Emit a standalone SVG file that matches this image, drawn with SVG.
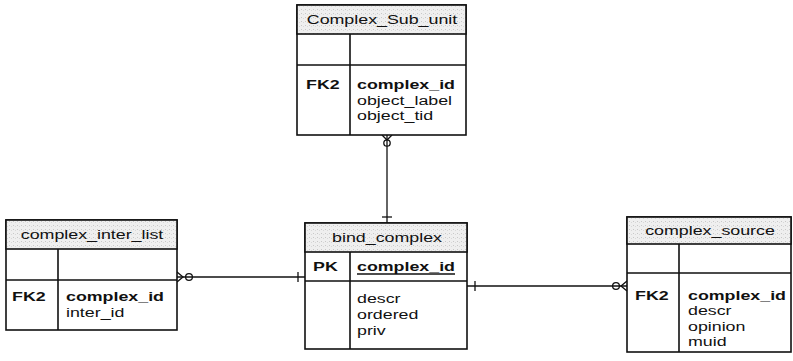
<svg xmlns="http://www.w3.org/2000/svg" width="793" height="361" viewBox="0 0 793 361">
<defs>
<pattern id="speck" width="4" height="4" patternUnits="userSpaceOnUse">
<rect width="4" height="4" fill="#efefef"/>
<rect x="1" y="1" width="1" height="1" fill="#c8c8c8"/>
<rect x="3" y="2" width="1" height="1" fill="#d8d8d8"/>
</pattern>
</defs>
<style>
.box{fill:#fff;stroke:#111;stroke-width:1.6}
.hdr{fill:url(#speck);stroke:#111;stroke-width:1.6}
.ln{stroke:#111;stroke-width:1.6;fill:none}
.cn{stroke:#111;stroke-width:1.3;fill:none}
.t{font-family:"Liberation Sans",Arial,sans-serif;font-size:13.5px;fill:#111}
.b{font-weight:bold}
.m{text-anchor:middle}
</style>
<rect width="793" height="361" fill="#fff"/>

<g id="connectors">
  <!-- Complex_Sub_unit to bind_complex -->
  <path class="cn" d="M387,135 V223"/>
  <path class="cn" d="M382,135 L387,140 L392,135"/>
  <circle class="cn" cx="387" cy="143" r="3.2" fill="#fff"/>
  <path class="cn" d="M382,217 H392"/>
  <!-- complex_inter_list to bind_complex -->
  <path class="cn" d="M177,277 H305"/>
  <path class="cn" d="M177,272 L183,277 L177,282"/>
  <circle class="cn" cx="189" cy="277" r="3.4" fill="#fff"/>
  <path class="cn" d="M298,272 V282"/>
  <!-- bind_complex to complex_source -->
  <path class="cn" d="M467,286 H627"/>
  <path class="cn" d="M475,281 V291"/>
  <path class="cn" d="M627,281 L621,286 L627,291"/>
  <circle class="cn" cx="616" cy="286" r="3.4" fill="#fff"/>
</g>

<g id="Complex_Sub_unit">
  <rect class="box" x="297" y="5" width="169" height="130"/>
  <rect class="hdr" x="297" y="5" width="169" height="29"/>
  <path class="ln" d="M297,65 H466 M350,34 V135"/>
  <g transform="translate(382,24) scale(1.32,1)"><text class="t m" x="0" y="0">Complex_Sub_unit</text></g>
  <g transform="translate(306,0) scale(1.32,1)"><text class="t b" x="0" y="89">FK2</text></g>
  <g transform="translate(357,0) scale(1.32,1)">
    <text class="t b" x="0" y="89">complex_id</text>
    <text class="t" x="0" y="105">object_label</text>
    <text class="t" x="0" y="120">object_tid</text>
  </g>
</g>

<g id="complex_inter_list">
  <rect class="box" x="6" y="220" width="171" height="110"/>
  <rect class="hdr" x="6" y="220" width="171" height="29"/>
  <path class="ln" d="M6,280 H177 M58,249 V330"/>
  <g transform="translate(92,239) scale(1.32,1)"><text class="t m" x="0" y="0">complex_inter_list</text></g>
  <g transform="translate(12,0) scale(1.32,1)"><text class="t b" x="0" y="301">FK2</text></g>
  <g transform="translate(66,0) scale(1.32,1)">
    <text class="t b" x="0" y="301">complex_id</text>
    <text class="t" x="0" y="317">inter_id</text>
  </g>
</g>

<g id="bind_complex">
  <rect class="box" x="305" y="223" width="162" height="126"/>
  <rect class="hdr" x="305" y="223" width="162" height="29"/>
  <path class="ln" d="M305,281 H467 M350,252 V349"/>
  <g transform="translate(387,242) scale(1.32,1)"><text class="t m" x="0" y="0">bind_complex</text></g>
  <g transform="translate(313,0) scale(1.32,1)"><text class="t b" x="0" y="271">PK</text></g>
  <g transform="translate(357,0) scale(1.32,1)">
    <text class="t b" x="0" y="271">complex_id</text>
    <text class="t" x="0" y="303">descr</text>
    <text class="t" x="0" y="319">ordered</text>
    <text class="t" x="0" y="335">priv</text>
  </g>
  <path class="ln" d="M357,274 H455" stroke-width="1.3"/>
</g>

<g id="complex_source">
  <rect class="box" x="627" y="217" width="164" height="135"/>
  <rect class="hdr" x="627" y="217" width="164" height="27"/>
  <path class="ln" d="M627,273 H791 M679,244 V352"/>
  <g transform="translate(710,235) scale(1.32,1)"><text class="t m" x="0" y="0">complex_source</text></g>
  <g transform="translate(635,0) scale(1.32,1)"><text class="t b" x="0" y="300">FK2</text></g>
  <g transform="translate(688,0) scale(1.32,1)">
    <text class="t b" x="0" y="300">complex_id</text>
    <text class="t" x="0" y="315">descr</text>
    <text class="t" x="0" y="331">opinion</text>
    <text class="t" x="0" y="346">muid</text>
  </g>
</g>
</svg>
